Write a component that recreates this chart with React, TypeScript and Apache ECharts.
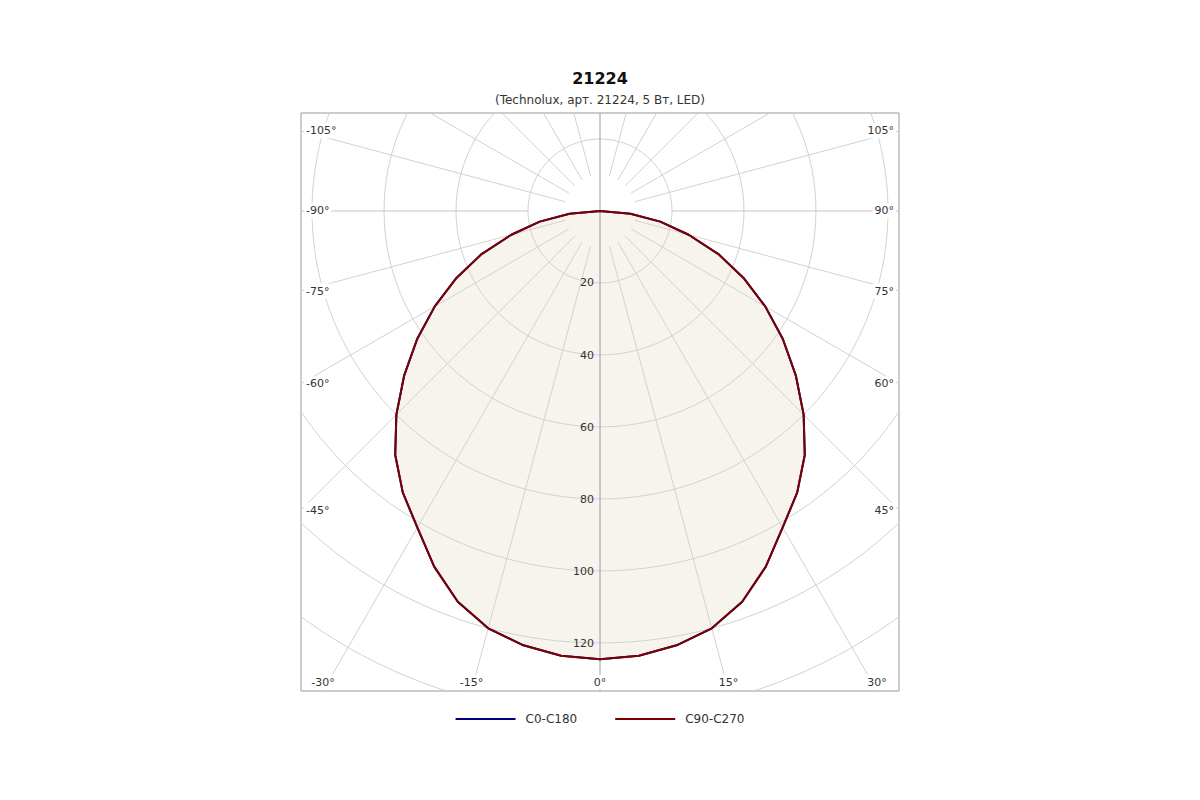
import React, { useEffect, useRef } from "react";
import * as echarts from "echarts";

const TITLE = "21224";
const SUBTITLE = "(Technolux, арт. 21224, 5 Вт, LED)";

// gamma angles (degrees from nadir) and luminous intensity (cd/klm)
const ANGLES = [0, 5, 10, 15, 20, 25, 30, 35, 40, 45, 50, 55, 60, 65, 70, 75, 80, 85, 90];
const C0_C180 = [124.5, 124, 122.5, 120, 115.5, 109, 101.5, 95.5, 88.5, 80, 71, 62, 53, 44, 35, 25.5, 17, 8.5, 0];
const C90_C270 = [124.5, 124, 122.5, 120, 115.5, 109, 101.5, 95.5, 88.5, 80, 71, 62, 53, 44, 35, 25.5, 17, 8.5, 0];

const SERIES_NAMES = ["C0-C180", "C90-C270"];
const RADIAL_CIRCLES = [20, 40, 60, 80, 100, 120, 140, 160];
const RADIAL_LABELS = [20, 40, 60, 80, 100, 120];
const ANGLE_LINES = [-165, -150, -135, -120, -105, -90, -75, -60, -45, -30, -15, 15, 30, 45, 60, 75, 90, 105, 120, 135, 150, 165];
const ANGLE_LABELS = [-105, -90, -75, -60, -45, -30, -15, 0, 15, 30, 45, 60, 75, 90, 105];

const X_MIN = -83.06;
const X_MAX = 83.06;
const Y_MIN = -133.33;
const Y_MAX = 27.22;

const FONT = "DejaVu Sans";

function toXY(intensity: number, angleDeg: number): [number, number] {
  const a = (angleDeg * Math.PI) / 180;
  return [intensity * Math.sin(a), -intensity * Math.cos(a)];
}

function curvePoints(values: number[]): [number, number][] {
  const pts: [number, number][] = [];
  for (let i = ANGLES.length - 1; i >= 0; i--) pts.push(toXY(values[i], -ANGLES[i]));
  for (let i = 1; i < ANGLES.length; i++) pts.push(toXY(values[i], ANGLES[i]));
  return pts;
}

function borderHit(angleDeg: number): { p: [number, number]; side: string } {
  const a = (angleDeg * Math.PI) / 180;
  const dx = Math.sin(a);
  const dy = -Math.cos(a);
  let best = Infinity;
  let side = "";
  if (dx > 1e-9) { const t = X_MAX / dx; if (t < best) { best = t; side = "right"; } }
  if (dx < -1e-9) { const t = X_MIN / dx; if (t < best) { best = t; side = "left"; } }
  if (dy > 1e-9) { const t = Y_MAX / dy; if (t < best) { best = t; side = "top"; } }
  if (dy < -1e-9) { const t = Y_MIN / dy; if (t < best) { best = t; side = "bottom"; } }
  return { p: [best * dx, best * dy], side };
}

export default function App() {
  const ref = useRef<HTMLDivElement>(null);

  useEffect(() => {
    if (!ref.current) return;
    const chart = echarts.init(ref.current, undefined, { renderer: "svg" });
    const c0 = curvePoints(C0_C180);
    const c90 = curvePoints(C90_C270);

    const option: any = {
      animation: false,
      backgroundColor: "#ffffff",
      textStyle: { fontFamily: FONT },
      title: {
        text: TITLE,
        subtext: SUBTITLE,
        left: "center",
        top: 65,
        itemGap: 8,
        textStyle: { fontFamily: FONT, fontSize: 16, fontWeight: "bold", color: "#111" },
        subtextStyle: { fontFamily: FONT, fontSize: 12, color: "#333" },
      },
      legend: {
        data: SERIES_NAMES,
        left: "center",
        top: 708,
        icon: "rect",
        itemWidth: 60,
        itemHeight: 2,
        itemGap: 38,
        textStyle: { fontFamily: FONT, fontSize: 12, color: "#333", padding: [0, 0, 0, 5] },
      },
      grid: {
        left: 301,
        right: 301,
        top: 113,
        bottom: 109,
        show: true,
        borderColor: "#999",
        borderWidth: 1,
        backgroundColor: "transparent",
      },
      xAxis: { type: "value", min: X_MIN, max: X_MAX, show: false },
      yAxis: { type: "value", min: Y_MIN, max: Y_MAX, show: false },
      series: [
        {
          type: "custom",
          name: "fill",
          clip: true,
          z: 1,
          silent: true,
          data: [[0, 0]],
          renderItem: (params: any, api: any) => {
            const pts = c90.map((p) => api.coord(p));
            return {
              type: "polygon",
              shape: { points: pts },
              style: { fill: "#f7f4ed", stroke: "none" },
            };
          },
        },
        {
          type: "custom",
          name: "grid",
          clip: true,
          z: 2,
          silent: true,
          data: [[0, 0]],
          renderItem: (params: any, api: any) => {
            const c = api.coord([0, 0]);
            const unit = api.size([1, 0])[0];
            const children: any[] = [];
            RADIAL_CIRCLES.forEach((r) => {
              children.push({
                type: "circle",
                shape: { cx: c[0], cy: c[1], r: r * unit },
                style: { fill: "none", stroke: "#d2d2d2", lineWidth: 1 },
              });
            });
            ANGLE_LINES.forEach((a) => {
              const r0 = Math.abs(a) === 90 ? 20 : 10;
              const p0 = api.coord(toXY(r0, a));
              const p1 = api.coord(toXY(220, a));
              children.push({
                type: "line",
                shape: { x1: p0[0], y1: p0[1], x2: p1[0], y2: p1[1] },
                style: { stroke: Math.abs(a) === 90 ? "#c4c4c4" : "#d2d2d2", lineWidth: 1 },
              });
            });
            const top = api.coord([0, Y_MAX]);
            const bot = api.coord([0, Y_MIN]);
            children.push({
              type: "line",
              shape: { x1: top[0], y1: top[1], x2: bot[0], y2: bot[1] },
              style: { stroke: "#9a9a9a", lineWidth: 1 },
            });
            return { type: "group", children };
          },
        },
        {
          type: "line",
          name: SERIES_NAMES[0],
          data: c0,
          symbol: "none",
          z: 3,
          color: "#000080",
          lineStyle: { width: 2, color: "#000080" },
        },
        {
          type: "line",
          name: SERIES_NAMES[1],
          data: c90,
          symbol: "none",
          z: 4,
          color: "#7d0000",
          lineStyle: { width: 2, color: "#7d0000" },
        },
        {
          type: "custom",
          name: "labels",
          clip: false,
          z: 5,
          silent: true,
          data: [[0, 0]],
          renderItem: (params: any, api: any) => {
            const children: any[] = [];
            ANGLE_LABELS.forEach((a) => {
              const hit = borderHit(a);
              const p = api.coord(hit.p);
              let x = p[0];
              let y = p[1];
              let align = "center";
              if (hit.side === "left") { x += 3; align = "left"; }
              if (hit.side === "right") { x -= 3; align = "right"; }
              if (hit.side === "bottom") { y -= 9; }
              children.push({
                type: "text",
                x,
                y,
                style: {
                  text: a + "°",
                  fill: "#333",
                  fontFamily: FONT,
                  fontSize: 11,
                  align,
                  verticalAlign: "middle",
                  backgroundColor: "#ffffff",
                  padding: [2, 2, 2, 2],
                },
              });
            });
            RADIAL_LABELS.forEach((r) => {
              const p = api.coord([0, -r]);
              children.push({
                type: "text",
                x: p[0] - 6,
                y: p[1],
                style: {
                  text: String(r),
                  fill: "#333",
                  fontFamily: FONT,
                  fontSize: 11,
                  align: "right",
                  verticalAlign: "middle",
                },
              });
            });
            return { type: "group", children };
          },
        },
      ],
    };
    chart.setOption(option);
    return () => chart.dispose();
  }, []);

  return (
    <div
      ref={ref}
      style={{ position: "fixed", left: 0, top: 0, width: 1200, height: 800 }}
    />
  );
}
